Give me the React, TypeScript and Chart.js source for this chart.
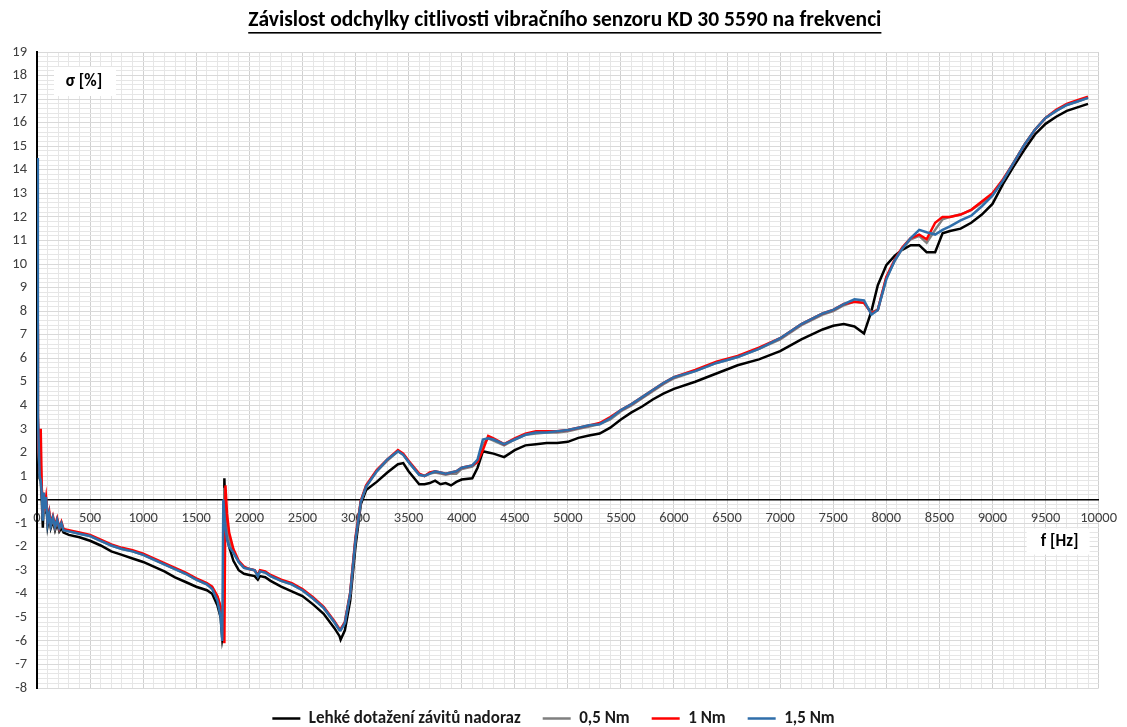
import React, { useEffect, useRef } from "react";
import { Chart, registerables } from "chart.js";

Chart.register(...registerables);

const FONT = "Carlito, Lato, 'Open Sans', sans-serif";

const TITLE = "Závislost odchylky citlivosti vibračního senzoru KD 30 5590 na frekvenci";
const Y_TITLE = "σ [%]";
const X_TITLE = "f [Hz]";
const SERIES_NAMES = ["Lehké dotažení závitů nadoraz", "0,5 Nm", "1 Nm", "1,5 Nm"];
const SERIES_COLORS = ["#000000", "#7f7f7f", "#ff0000", "#2f6eaa"];

const Y_MIN = -8;
const Y_MAX = 19;
const X_MIN = 0;
const X_MAX = 10000;

const freqHz = [
  0, 8, 16, 25, 35, 45, 55, 65, 75, 85,
  100, 115, 130, 150, 170, 190, 210, 230, 250, 300,
  400, 500, 600, 700, 800, 900, 1000, 1100, 1200, 1300,
  1400, 1500, 1600, 1650, 1700, 1730, 1745, 1755, 1765, 1775,
  1790, 1810, 1850, 1900, 1950, 2000, 2050, 2080, 2100, 2150,
  2200, 2300, 2400, 2500, 2600, 2700, 2800, 2850, 2860, 2900,
  2950, 3000, 3050, 3100, 3200, 3300, 3400, 3450, 3500, 3600,
  3650, 3700, 3750, 3800, 3850, 3900, 3950, 4000, 4100, 4150,
  4200, 4250, 4300, 4400, 4500, 4600, 4700, 4800, 4900, 5000,
  5100, 5200, 5300, 5400, 5500, 5600, 5700, 5800, 5900, 6000,
  6200, 6400, 6600, 6800, 7000, 7200, 7400, 7500, 7600, 7700,
  7790, 7860, 7920, 8000, 8080, 8150, 8230, 8310, 8380, 8460,
  8530, 8600, 8700, 8800, 8900, 9000, 9100, 9200, 9300, 9400,
  9500, 9600, 9700, 9800, 9900,
];

const lehkeDotazeni = [
  7.2, 3.0, 2.3, 0.9, 0.8, 0.0, -1.2, 0.1, -0.6, 0.0,
  -1.1, -0.7, -1.2, -0.9, -1.3, -1.0, -1.35, -1.2, -1.4, -1.5,
  -1.6, -1.75, -1.95, -2.2, -2.35, -2.5, -2.65, -2.85, -3.05, -3.3,
  -3.5, -3.7, -3.85, -4.0, -4.5, -5.0, -5.9, -5.6, 0.9, -0.8,
  -1.6, -2.0, -2.6, -3.0, -3.15, -3.2, -3.25, -3.4, -3.25, -3.3,
  -3.45, -3.7, -3.9, -4.1, -4.45, -4.85, -5.45, -5.8, -5.95, -5.55,
  -4.3, -2.0, -0.2, 0.4, 0.75, 1.15, 1.5, 1.55, 1.2, 0.65,
  0.65, 0.7, 0.8, 0.65, 0.7, 0.6, 0.75, 0.85, 0.9, 1.35,
  2.05, 2.0, 1.95, 1.8, 2.1, 2.3, 2.35, 2.4, 2.4, 2.45,
  2.62, 2.72, 2.8, 3.05, 3.4, 3.7, 3.95, 4.25, 4.5, 4.7,
  5.0, 5.35, 5.7, 5.95, 6.3, 6.8, 7.22, 7.38, 7.45, 7.35,
  7.05, 8.0, 9.1, 9.95, 10.35, 10.6, 10.8, 10.8, 10.5, 10.5,
  11.3, 11.4, 11.5, 11.75, 12.1, 12.55, 13.4, 14.15, 14.85, 15.5,
  15.95, 16.25, 16.5, 16.65, 16.8,
];

const nm05 = [
  7.0, 3.3, 2.0, 1.1, 1.5, 0.3, -0.8, 0.2, -0.3, -0.1,
  -0.9, -0.6, -1.1, -0.8, -1.2, -0.85, -1.25, -1.0, -1.3, -1.35,
  -1.45, -1.55, -1.75, -1.95, -2.1, -2.2, -2.35, -2.55, -2.75, -2.95,
  -3.15, -3.4, -3.6, -3.75, -4.15, -4.6, -5.2, -5.7, 0.5, -0.4,
  -1.2, -1.7, -2.25, -2.65, -2.9, -2.95, -3.0, -3.25, -3.05, -3.1,
  -3.25, -3.45, -3.6, -3.85, -4.2, -4.6, -5.2, -5.55, -5.55, -5.2,
  -4.0, -1.7, -0.1, 0.55, 1.2, 1.65, 2.05, 1.9, 1.6, 1.05,
  1.0, 1.1, 1.15, 1.1, 1.05, 1.1, 1.1, 1.3, 1.4, 1.6,
  2.35, 2.6, 2.5, 2.3, 2.55, 2.75, 2.8, 2.85, 2.85, 2.9,
  3.0, 3.1, 3.2, 3.4, 3.75, 4.0, 4.3, 4.6, 4.9, 5.15,
  5.45, 5.8, 6.05, 6.4, 6.8, 7.4, 7.85, 8.0, 8.25, 8.4,
  8.35, 7.95, 8.05, 9.4, 10.15, 10.65, 11.05, 11.2, 10.9, 11.45,
  11.9, 12.0, 12.1, 12.3, 12.6, 12.95, 13.55, 14.3, 15.05, 15.7,
  16.2, 16.5, 16.75, 16.9, 17.05,
];

const nm1 = [
  7.5, 3.6, 2.2, 1.2, 3.0, 0.5, -0.6, 0.0, -0.2, 0.1,
  -0.8, -0.5, -1.0, -0.7, -1.1, -0.8, -1.2, -0.95, -1.25, -1.3,
  -1.4, -1.5, -1.7, -1.9, -2.05, -2.15, -2.3, -2.5, -2.7, -2.9,
  -3.1, -3.35, -3.55, -3.7, -4.1, -4.55, -5.0, -5.6, -6.1, 0.6,
  -0.6, -1.4, -2.1, -2.6, -2.85, -2.95, -3.0, -3.2, -3.0, -3.05,
  -3.2, -3.4, -3.55, -3.8, -4.15, -4.55, -5.15, -5.5, -5.5, -5.2,
  -3.95, -1.6, -0.05, 0.6, 1.25, 1.7, 2.1, 1.95, 1.65, 1.1,
  1.0, 1.15, 1.2, 1.15, 1.1, 1.15, 1.2, 1.35, 1.45, 1.6,
  2.1, 2.7, 2.6, 2.35, 2.6, 2.8, 2.9, 2.9, 2.9, 2.95,
  3.05, 3.15, 3.25, 3.5, 3.8, 4.05, 4.35, 4.65, 4.95, 5.2,
  5.5, 5.85, 6.1, 6.45, 6.85, 7.45, 7.9, 8.05, 8.3, 8.4,
  8.35, 7.9, 8.05, 9.45, 10.2, 10.7, 11.1, 11.25, 11.05, 11.75,
  12.0, 12.0, 12.1, 12.3, 12.65, 13.0, 13.6, 14.3, 15.05, 15.7,
  16.2, 16.55, 16.8, 16.95, 17.1,
];

const nm15 = [
  14.5, 3.5, 2.4, 1.0, 0.8, 0.3, -0.9, 0.3, -0.4, 0.1,
  -1.0, -0.6, -1.1, -0.75, -1.15, -0.85, -1.2, -1.0, -1.3, -1.35,
  -1.45, -1.55, -1.75, -1.95, -2.1, -2.2, -2.35, -2.55, -2.75, -2.95,
  -3.15, -3.4, -3.6, -3.8, -4.3, -5.0, -6.0, 0.0, -0.6, -1.2,
  -1.7, -2.0, -2.25, -2.65, -2.9, -2.95, -3.0, -3.25, -3.05, -3.1,
  -3.25, -3.45, -3.6, -3.85, -4.2, -4.6, -5.2, -5.55, -5.55, -5.25,
  -4.0, -1.7, -0.1, 0.55, 1.2, 1.7, 2.05, 1.9, 1.6, 1.05,
  1.0, 1.1, 1.2, 1.15, 1.1, 1.15, 1.2, 1.35, 1.45, 1.7,
  2.55, 2.6, 2.55, 2.35, 2.55, 2.75, 2.85, 2.85, 2.9, 2.95,
  3.05, 3.15, 3.2, 3.45, 3.8, 4.05, 4.35, 4.65, 4.95, 5.2,
  5.45, 5.8, 6.05, 6.4, 6.85, 7.45, 7.9, 8.05, 8.3, 8.5,
  8.45, 7.85, 8.05, 9.35, 10.15, 10.65, 11.1, 11.45, 11.35, 11.25,
  11.45, 11.6, 11.85, 12.05, 12.45, 12.9, 13.55, 14.3, 15.05, 15.7,
  16.2, 16.5, 16.75, 16.9, 17.05,
];

const SERIES_VALUES = [lehkeDotazeni, nm05, nm1, nm15];

const isWhole = (v: number) => Math.abs(v - Math.round(v)) < 1e-6;

const overlayPlugin = {
  id: "overlayTexts",
  afterDraw(chart: any) {
    const { ctx, chartArea, scales } = chart;
    ctx.save();
    // Title, bold + underlined
    ctx.font = `bold 21.5px ${FONT}`;
    ctx.fillStyle = "#000";
    ctx.textAlign = "center";
    ctx.textBaseline = "middle";
    const cx = (chartArea.left + chartArea.right) / 2 - 3;
    const cy = 21;
    ctx.fillText(TITLE, cx, cy);
    const w = ctx.measureText(TITLE).width;
    ctx.fillRect(cx - w / 2, cy + 11, w, 1.6);

    // y-axis title box
    ctx.font = `bold 17px ${FONT}`;
    const bx = chartArea.left + 17;
    const by = chartArea.top + 15;
    ctx.fillStyle = "#fff";
    ctx.fillRect(bx, by, 62, 29);
    ctx.fillStyle = "#000";
    ctx.fillText(Y_TITLE, bx + 30, by + 15);

    // x-axis title box
    const zeroY = scales.y.getPixelForValue(0);
    const fx = chartArea.right - 72;
    const fy = zeroY + 29;
    ctx.fillStyle = "#fff";
    ctx.fillRect(fx, fy, 63, 26);
    ctx.fillStyle = "#000";
    ctx.fillText(X_TITLE, fx + 33, fy + 13);
    ctx.restore();
  },
};

export default function App() {
  const canvasRef = useRef<HTMLCanvasElement | null>(null);

  useEffect(() => {
    document.body.style.margin = "0";
    const canvas = canvasRef.current;
    if (!canvas) return;
    Chart.defaults.font.family = FONT;

    const datasets = SERIES_NAMES.map((name, i) => ({
      label: name,
      data: freqHz.map((f, k) => ({ x: f, y: SERIES_VALUES[i][k] })),
      borderColor: SERIES_COLORS[i],
      backgroundColor: SERIES_COLORS[i],
      borderWidth: 2.5,
      pointRadius: 0,
      tension: 0,
      order: SERIES_NAMES.length - i,
    }));

    const chart = new Chart(canvas, {
      type: "line",
      data: { datasets },
      options: {
        animation: false,
        responsive: false,
        maintainAspectRatio: false,
        layout: { padding: { top: 52, right: 20, bottom: -10, left: 0 } },
        plugins: {
          legend: {
            position: "bottom",
            labels: {
              usePointStyle: true,
              pointStyle: "line",
              pointStyleWidth: 28,
              padding: 22,
              color: "#1a1a1a",
              font: { size: 17, weight: "bold" },
              sort: (a: any, b: any) => a.datasetIndex - b.datasetIndex,
            },
          },
          tooltip: { enabled: false },
          title: { display: false },
        },
        scales: {
          x: {
            type: "linear",
            min: X_MIN,
            max: X_MAX,
            position: { y: 0 } as any,
            afterFit: (s: any) => {
              s.height = 0;
            },
            border: { color: "#000", width: 1.5 },
            grid: {
              drawTicks: false,
              lineWidth: 1,
              color: (c: any) =>
                c.tick && c.tick.value % 500 === 0 ? "#d0d0d0" : "#e6e6e6",
            },
            ticks: {
              stepSize: 100,
              autoSkip: false,
              maxRotation: 0,
              padding: 10,
              color: "#404040",
              font: { size: 14.5 },
              callback: (v: any) => (Number(v) % 500 === 0 ? String(v) : ""),
            },
          },
          y: {
            type: "linear",
            min: Y_MIN,
            max: Y_MAX,
            afterFit: (s: any) => {
              s.width = 37;
            },
            border: { color: "#000", width: 2 },
            grid: {
              drawTicks: false,
              lineWidth: 1,
              color: (c: any) =>
                c.tick && isWhole(c.tick.value) ? "#d9d9d9" : "#e6e6e6",
            },
            ticks: {
              stepSize: 0.2,
              autoSkip: false,
              padding: 10,
              color: "#404040",
              font: { size: 14.5 },
              callback: (v: any) => (isWhole(Number(v)) ? String(Math.round(Number(v))) : ""),
            },
          },
        },
      },
      plugins: [overlayPlugin],
    } as any);

    return () => chart.destroy();
  }, []);

  return (
    <div style={{ width: 1127, height: 727 }}>
      <canvas ref={canvasRef} width={1127} height={727} />
    </div>
  );
}
